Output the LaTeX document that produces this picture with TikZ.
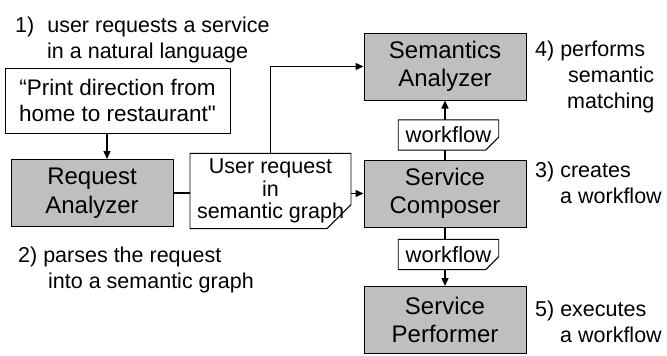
\documentclass[tikz,border=0pt]{standalone}
\usepackage{fontspec}
\setmainfont{Liberation Sans}
\newfontfamily\plainsans{Liberation Sans}
\usepackage{tikz}
\usetikzlibrary{arrows.meta, shapes.misc, calc}

\begin{document}
\begin{tikzpicture}[x=1pt, y=-1pt]
\tikzset{
  unit/.style={rectangle,draw=black,line width=1pt,fill=black!25,minimum width=162pt,minimum height=67pt,inner sep=0pt,align=center,font=\fontsize{24}{28.5}\selectfont},
  box/.style={rectangle,draw=black,line width=0.9pt,fill=white,minimum width=225pt,minimum height=65pt,inner sep=0pt,align=center,font=\fontsize{22.5}{26}\selectfont},
  doc/.style={chamfered rectangle,chamfered rectangle corners=south east,chamfered rectangle xsep=8pt,chamfered rectangle ysep=5pt,
    draw=black,line width=0.9pt,fill=white,minimum width=90pt,minimum height=28pt,inner xsep=-0.5pt,inner ysep=2pt,align=center,font=\fontsize{22}{24}\selectfont,
    path picture={\fill[black!45] ([xshift=-8pt]path picture bounding box.south east) -- ([yshift=5pt]path picture bounding box.south east) -- ([xshift=-6pt,yshift=3pt]path picture bounding box.south east) -- cycle;}},
  ar/.style={-{Triangle[length=8pt,width=7pt]},line width=1.3pt,draw=black},
  ln/.style={line width=1.3pt,draw=black},
  lab/.style={anchor=base west,align=left,inner sep=0pt,font=\fontsize{21.5}{26}\selectfont}
}
\useasboundingbox (0,0) rectangle (667,356);
% ---- units
\node[unit] (req)  at (92,193)    {Request\\Analyzer};
\node[unit] (sem)  at (445,66.5)  {Semantics\\Analyzer};
\node[unit] (comp) at (445,193.5) {Service\\Composer};
\node[unit] (perf) at (445,320)   {Service\\Performer};
% ---- the request and its graph form
\node[box] (quote) at (117.5,100.5) {“Print direction from\\home to restaurant{\plainsans"}};
\node[doc,chamfered rectangle xsep=14pt,chamfered rectangle ysep=10pt,inner xsep=-7pt,inner ysep=-4.5pt,font=\fontsize{21.5}{22.5}\selectfont,
  path picture={\fill[black!45] ([xshift=-14pt]path picture bounding box.south east) -- ([yshift=10pt]path picture bounding box.south east) -- ([xshift=-11pt,yshift=6pt]path picture bounding box.south east) -- cycle;}]
  (graph) at (270.5,191) {User request\\in\\semantic graph};
% ---- arrows
\draw[ar] ([xshift=15pt]req.north |- quote.south) -- ([xshift=15pt]req.north);
\draw[ln] (req.east) -- (req.east -| graph.west);
\draw[ar] (graph.north) |- (sem.west);
\draw[ar] (graph.east |- comp.west) -- (comp.west);
\draw[ar] (comp.north) -- (sem.south);
\draw[ar] (comp.south) -- (perf.north);
% ---- workflow handed on
\node[doc] (wf1) at (448.5,135)   {workflow};
\node[doc] (wf2) at (448.5,254.5) {workflow};
% ---- steps (anchored on the last line)
\node[lab] (s1) at (15,58)   {1)\hspace{13pt}user requests a service\\\hspace*{32pt}in a natural language};
\node[lab] (s2) at (18,288)  {2) parses the request\\\hspace*{30pt}into a semantic graph};
\node[lab] (s3) at (535,203) {3) creates\\\hspace*{25pt}a workflow};
\node[lab] (s4) at (535,108) {4) performs\\\hspace*{33pt}semantic\\\hspace*{32pt}matching};
\node[lab] (s5) at (535,342) {5) executes\\\hspace*{25pt}a workflow};
\end{tikzpicture}
\end{document}
